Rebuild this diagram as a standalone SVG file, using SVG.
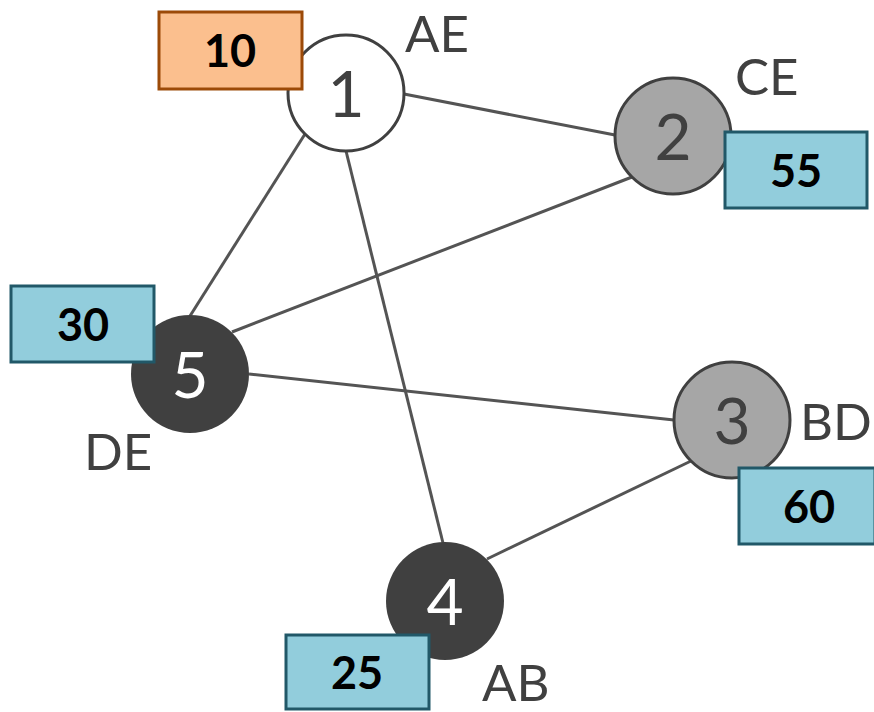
<svg xmlns="http://www.w3.org/2000/svg" width="874" height="712" viewBox="0 0 874 712">
<style>
.edge{stroke:#545454;stroke-width:3;fill:none}
.node{stroke:#404040;stroke-width:3}
.num{font-family:Lato,"Open Sans",sans-serif;font-size:64px;text-anchor:middle}
.lbl{font-family:Lato,"Open Sans",sans-serif;font-size:51px;fill:#404040}
.box{fill:#92CDDC;stroke:#215868;stroke-width:3}
.val{font-family:Lato,"Open Sans",sans-serif;font-size:45px;font-weight:bold;fill:#000;text-anchor:middle}
</style>
<rect width="874" height="712" fill="#fff"/>
<g id="edges">
<line class="edge" x1="404" y1="94" x2="615" y2="135"/>
<line class="edge" x1="305" y1="134" x2="190" y2="316"/>
<line class="edge" x1="346" y1="151" x2="443" y2="543"/>
<line class="edge" x1="632" y1="177" x2="232" y2="332"/>
<line class="edge" x1="249" y1="374" x2="674" y2="420"/>
<line class="edge" x1="691" y1="461" x2="487" y2="559"/>
</g>
<g id="node1">
<circle class="node" cx="346" cy="93" r="58" fill="#fff"/>
<text class="num" x="346" y="117" fill="#404040">1</text>
<text class="lbl" x="405" y="52">AE</text>
<rect x="159" y="12" width="143" height="77" fill="#FBBF8E" stroke="#9C4A08" stroke-width="3"/>
<text class="val" x="230" y="67">10</text>
</g>
<g id="node2">
<circle class="node" cx="673" cy="136" r="58" fill="#A6A6A6"/>
<text class="num" x="673" y="160" fill="#404040">2</text>
<text class="lbl" x="735" y="95">CE</text>
<rect class="box" x="725" y="132" width="142" height="76"/>
<text class="val" x="796" y="187">55</text>
</g>
<g id="node3">
<circle class="node" cx="732" cy="420" r="58" fill="#A6A6A6"/>
<text class="num" x="732" y="444" fill="#404040">3</text>
<text class="lbl" x="800" y="440" font-size="46">BD</text>
<rect class="box" x="739" y="468" width="136" height="76"/>
<text class="val" x="809" y="523">60</text>
</g>
<g id="node4">
<circle cx="445" cy="601" r="59" fill="#404040"/>
<text class="num" x="445" y="625" fill="#fff">4</text>
<text class="lbl" x="482" y="701" font-size="49">AB</text>
<rect class="box" x="286" y="635" width="143" height="74"/>
<text class="val" x="357" y="689">25</text>
</g>
<g id="node5">
<circle cx="190" cy="374" r="59" fill="#404040"/>
<text class="num" x="190" y="398" fill="#fff">5</text>
<text class="lbl" x="84" y="470">DE</text>
<rect class="box" x="11" y="286" width="143" height="76"/>
<text class="val" x="83" y="341">30</text>
</g>
</svg>
